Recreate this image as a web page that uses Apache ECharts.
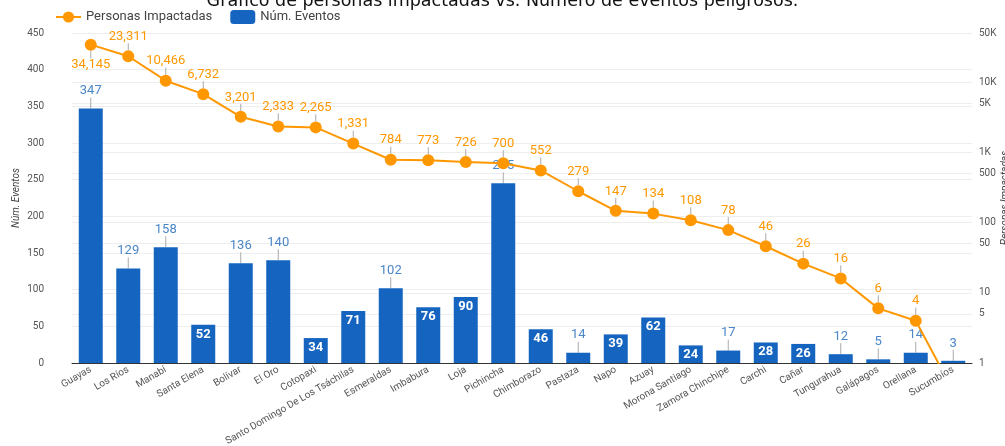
<!DOCTYPE html>
<html>
<head>
<meta charset="utf-8">
<script src="https://cdn.jsdelivr.net/npm/echarts@6/dist/echarts.min.js"></script>
<style>
html,body{margin:0;padding:0;background:#fff;}
#chart{width:1005px;height:446px;}
</style>
</head>
<body>
<div id="chart"></div>
<script>
const titleText = 'Gráfico de personas impactadas vs. Número de eventos peligrosos.';
const categories = ['Guayas','Los Ríos','Manabí','Santa Elena','Bolívar','El Oro','Cotopaxi','Santo Domingo De Los Tsáchilas','Esmeraldas','Imbabura','Loja','Pichincha','Chimborazo','Pastaza','Napo','Azuay','Morona Santiago','Zamora Chinchipe','Carchi','Cañar','Tungurahua','Galápagos','Orellana','Sucumbíos'];
const eventos = [347,129,158,52,136,140,34,71,102,76,90,245,46,14,39,62,24,17,28,26,12,5,14,3];
const personas = [34145,23311,10466,6732,3201,2333,2265,1331,784,773,726,700,552,279,147,134,108,78,46,26,16,6,4,0.4];
const leftTicks = [0,50,100,150,200,250,300,350,400,450];
const rightTicks = [1,5,10,50,100,500,1000,5000,10000,50000];

const insideLabelIdx = new Set([3,6,7,9,10,12,14,15,16,18,19]);
const lineBelowIdx = new Set([0]);
const lineHiddenIdx = new Set([23]);

const blue = '#1565C0';
const orange = '#FF9800';

const barData = eventos.map((v,i) => {
  if (insideLabelIdx.has(i)) {
    return {value: v, label: {position: 'insideTop', distance: 3, color: '#fff', fontWeight: 'bold'}};
  }
  return {value: v};
});
const lineData = personas.map((v,i) => {
  if (lineBelowIdx.has(i)) return {value: v, label: {position: 'bottom', distance: 2}};
  if (lineHiddenIdx.has(i)) return {value: v, label: {show: false}};
  return {value: v};
});

const chart = echarts.init(document.getElementById('chart'), null, {renderer: 'canvas'});
chart.setOption({
  animation: false,
  textStyle: {fontFamily: 'Roboto'},
  title: {
    text: titleText,
    left: 'center',
    top: -13,
    textStyle: {fontFamily: 'DejaVu Sans', fontSize: 17.5, fontWeight: 'normal', color: '#111'}
  },
  legend: {
    left: 50, top: 5,
    itemWidth: 25, itemHeight: 14, itemGap: 18,
    data: ['Personas Impactadas','Núm. Eventos'],
    textStyle: {fontSize: 13, color: '#444'}
  },
  grid: {left: 72, right: 33, top: 33, bottom: 83, containLabel: false, outerBoundsMode: 'none'},
  xAxis: {
    type: 'category',
    data: categories,
    axisLine: {lineStyle: {color: '#333'}},
    axisTick: {show: false},
    axisLabel: {rotate: 30, interval: 0, fontSize: 10, color: '#555', margin: 6}
  },
  yAxis: [
    {
      type: 'value', min: 0, max: 450, interval: 50,
      name: 'Núm. Eventos', nameLocation: 'middle', nameGap: 51, nameRotate: 90,
      nameMoveOverlap: false,
      nameTextStyle: {fontStyle: 'italic', fontSize: 10, color: '#444'},
      axisLine: {show: false}, axisTick: {show: false},
      axisLabel: {fontSize: 10, color: '#555', margin: 28},
      splitLine: {lineStyle: {color: '#eeeeee'}}
    },
    {
      type: 'log', logBase: 10, min: 1, max: 50000, position: 'right',
      name: 'Personas Impactadas', nameLocation: 'middle', nameGap: 28, nameRotate: 90,
      nameMoveOverlap: false,
      nameTextStyle: {fontStyle: 'italic', fontSize: 10, color: '#444'},
      axisLine: {show: false},
      axisTick: {show: false, customValues: rightTicks},
      axisLabel: {
        fontSize: 10, color: '#555', margin: 7,
        customValues: rightTicks,
        formatter: v => v >= 1000 ? (v/1000) + 'K' : String(v)
      },
      splitLine: {lineStyle: {color: '#eeeeee'}}
    }
  ],
  series: [
    {
      name: 'Núm. Eventos',
      type: 'bar',
      yAxisIndex: 0,
      barWidth: 24,
      itemStyle: {color: blue},
      data: barData,
      label: {show: true, position: 'top', distance: 2, fontSize: 13, color: '#4a86c8'},
      labelLayout: p => insideLabelIdx.has(p.dataIndex) ? {} : {dy: -9},
      labelLine: {show: true, lineStyle: {color: '#aaa', width: 1}}
    },
    {
      name: 'Personas Impactadas',
      type: 'line',
      yAxisIndex: 1,
      symbol: 'circle',
      symbolSize: 12,
      lineStyle: {color: orange, width: 2},
      itemStyle: {color: orange},
      clip: true,
      z: 5,
      data: lineData,
      label: {
        show: true, position: 'top', distance: 2, fontSize: 13, color: orange,
        formatter: p => p.value.toLocaleString('en-US')
      },
      labelLayout: p => lineBelowIdx.has(p.dataIndex) ? {dy: 6} : {dy: -5},
      labelLine: {show: true, lineStyle: {color: '#aaa', width: 1}}
    }
  ]
});
</script>
</body>
</html>
